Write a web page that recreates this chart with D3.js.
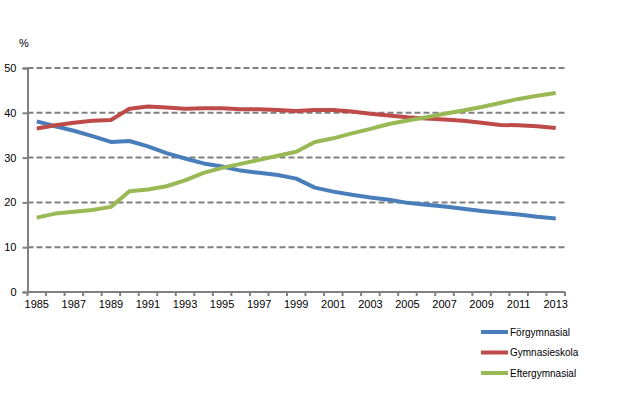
<!DOCTYPE html>
<html>
<head>
<meta charset="utf-8">
<script src="https://cdn.jsdelivr.net/npm/d3@7"></script>
<style>
  body { margin: 0; background: #fff; }
  svg { display: block; font-family: "Liberation Sans", Arial, sans-serif; }
</style>
</head>
<body>
<div id="chart"></div>
<script>
// data
const years = d3.range(1985, 2014);
const yTicks = [0, 10, 20, 30, 40, 50];
const forgymnasial = [38.1, 37.0, 36.0, 34.8, 33.5, 33.7, 32.5, 31.0, 29.8, 28.7, 28.0, 27.1, 26.6, 26.1, 25.3,
  23.3, 22.4, 21.7, 21.1, 20.6, 19.9, 19.5, 19.1, 18.6, 18.1, 17.7, 17.3, 16.8, 16.4];
const gymnasieskola = [36.5, 37.2, 37.8, 38.2, 38.4, 40.9, 41.4, 41.2, 40.9, 41.0, 41.0, 40.8, 40.8, 40.6, 40.4,
  40.6, 40.6, 40.3, 39.8, 39.4, 39.0, 38.7, 38.5, 38.2, 37.8, 37.3, 37.2, 37.0, 36.6];
const eftergymnasial = [16.6, 17.5, 17.9, 18.3, 19.0, 22.5, 22.9, 23.6, 24.9, 26.6, 27.7, 28.6, 29.5, 30.4, 31.3,
  33.5, 34.3, 35.4, 36.4, 37.5, 38.3, 39.0, 39.8, 40.5, 41.3, 42.2, 43.1, 43.8, 44.4];

const series = [
  { name: "Förgymnasial", values: forgymnasial, color: "#4a7ebb" },
  { name: "Gymnasieskola", values: gymnasieskola, color: "#be4b48" },
  { name: "Eftergymnasial", values: eftergymnasial, color: "#98b954" }
];

const W = 641, H = 398;
const mLeft = 27.5, mRight = 565, mTop = 68, mBottom = 292;

const svg = d3.select("#chart").append("svg")
  .attr("width", W).attr("height", H);

const x = d3.scaleBand().domain(years).range([mLeft, mRight]);
const y = d3.scaleLinear().domain([0, 50]).range([mBottom, mTop]);
const gray = "#808080";

// gridlines
svg.append("g").selectAll("line")
  .data(yTicks.filter(d => d > 0))
  .enter().append("line")
  .attr("x1", mLeft).attr("x2", mRight)
  .attr("y1", d => y(d)).attr("y2", d => y(d))
  .attr("stroke", gray).attr("stroke-width", 2)
  .attr("stroke-dasharray", "6,3");

// y axis
const yAxis = svg.append("g")
  .attr("transform", "translate(" + mLeft + ",0)")
  .call(d3.axisLeft(y).tickValues(yTicks).tickSize(5).tickPadding(6));
yAxis.select(".domain").attr("stroke", gray).attr("stroke-width", 2);
yAxis.selectAll(".tick line").attr("stroke", gray).attr("stroke-width", 2);
yAxis.selectAll("text").attr("font-size", 11).attr("fill", "#000")
  .attr("font-family", "Liberation Sans, Arial, sans-serif");

// x axis: ticks between categories, labels on every other year
const xAxis = svg.append("g").attr("transform", "translate(0," + mBottom + ")");
xAxis.append("line")
  .attr("x1", mLeft).attr("x2", mRight)
  .attr("stroke", gray).attr("stroke-width", 2);
xAxis.selectAll(".tk")
  .data(years.concat([2014]))
  .enter().append("line")
  .attr("class", "tk")
  .attr("x1", d => d === 2014 ? mRight : x(d))
  .attr("x2", d => d === 2014 ? mRight : x(d))
  .attr("y1", 0).attr("y2", 4)
  .attr("stroke", gray).attr("stroke-width", 2);
xAxis.selectAll("text")
  .data(years.filter(d => d % 2 === 1))
  .enter().append("text")
  .attr("x", d => x(d) + x.bandwidth() / 2)
  .attr("y", 16)
  .attr("text-anchor", "middle")
  .attr("font-size", 11)
  .text(d => d);

svg.append("text")
  .attr("x", 19).attr("y", 47)
  .attr("font-size", 11)
  .text("%");

// lines
const line = d3.line()
  .x((d, i) => x(years[i]) + x.bandwidth() / 2)
  .y(d => y(d));

svg.append("g").selectAll("path")
  .data(series)
  .enter().append("path")
  .attr("d", d => line(d.values))
  .attr("fill", "none")
  .attr("stroke", d => d.color)
  .attr("stroke-width", 4)
  .attr("stroke-linejoin", "round");

// legend
const legend = svg.append("g").selectAll("g")
  .data(series)
  .enter().append("g")
  .attr("transform", (d, i) => "translate(481," + (332 + i * 20.5) + ")");
legend.append("line")
  .attr("x1", 0).attr("x2", 27)
  .attr("stroke", d => d.color).attr("stroke-width", 4);
legend.append("text")
  .attr("x", 29).attr("y", 3.5)
  .attr("font-size", 10)
  .text(d => d.name);
</script>
</body>
</html>
